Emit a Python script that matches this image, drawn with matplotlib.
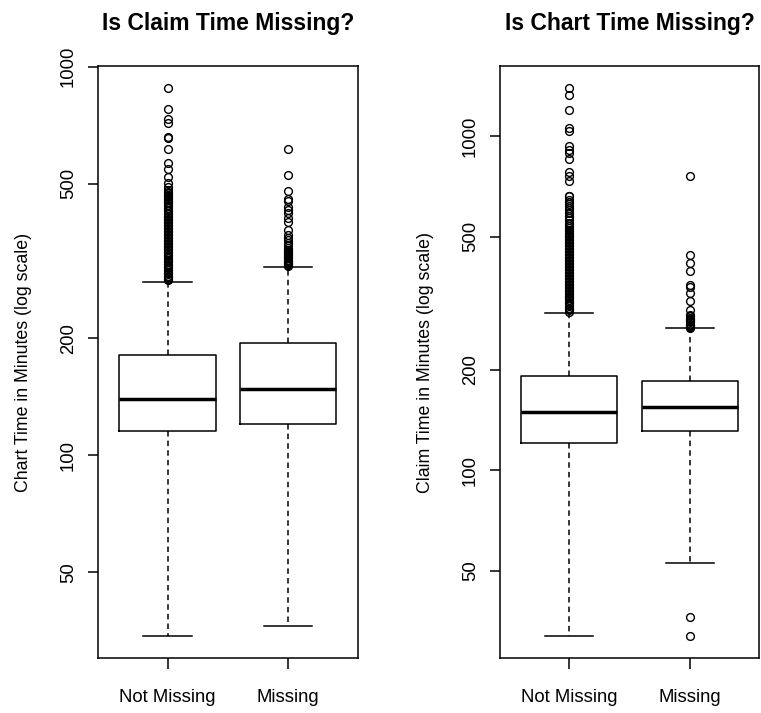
import matplotlib
matplotlib.use("Agg")
import matplotlib.pyplot as plt
from matplotlib.ticker import FixedLocator, FixedFormatter, NullLocator

plt.rcParams['font.family'] = ['Liberation Sans', 'DejaVu Sans']

categories = ["Not Missing", "Missing"]

# Panel 1: Is Claim Time Missing? (Chart time, minutes)
claim_titles = "Is Claim Time Missing?"
claim_ylabel = "Chart Time in Minutes (log scale)"
claim_q1 = [115.5, 120.2]
claim_med = [139.4, 147.7]
claim_q3 = [181.3, 195.0]
claim_whislo = [34.2, 36.3]
claim_whishi = [279.7, 305.8]
claim_fliers_notmissing = [282, 284.5, 287, 289.5, 292, 294.5, 297, 300, 302.5, 305, 308,
                           311, 313.5, 316.5, 319, 322, 325, 328, 331, 334, 337, 340,
                           343, 346, 349, 352, 355, 358.5, 362, 365, 368.5, 372, 375,
                           378.5, 382, 385.5, 389, 392.5, 396, 399.5, 403, 406.5, 410,
                           414, 418, 421.5, 425, 429, 433, 437, 441, 445, 449, 453, 457,
                           461, 465, 469, 473, 477, 483, 491, 503, 521, 545, 564, 615,
                           655, 660, 716, 735, 779, 880]
claim_fliers_missing = [307, 309, 311, 313, 315, 317, 319, 321, 323, 325, 327, 329, 331,
                        333, 336, 338, 341, 347, 352, 358, 363, 369, 380, 399, 407, 420,
                        428, 436, 450, 456, 480, 525, 615]
claim_ylim = (30.0, 1003)

# Panel 2: Is Chart Time Missing? (Claim time, minutes)
chart_titles = "Is Chart Time Missing?"
chart_ylabel = "Claim Time in Minutes (log scale)"
chart_q1 = [120.3, 131.0]
chart_med = [149.3, 154.2]
chart_q3 = [191.0, 185.0]
chart_whislo = [31.8, 52.6]
chart_whishi = [296.5, 266.0]
chart_fliers_notmissing = [298, 301, 304, 307, 310.5, 313.5, 317, 320, 323.5, 327, 330,
                           333.5, 337, 340.5, 344, 347.5, 351, 355, 358.5, 362, 366, 370,
                           373.5, 377.5, 381.5, 385.5, 389.5, 393.5, 397.5, 401.5, 405.5,
                           410, 414, 418.5, 422.5, 427, 431.5, 436, 440.5, 445, 449.5,
                           454, 459, 463.5, 468.5, 473, 478, 483, 488, 493, 498, 503,
                           508, 515, 520, 525, 532, 538, 545, 552, 560, 569, 578, 589,
                           600, 610, 620, 628, 637, 646, 661, 665, 733, 759, 780, 855,
                           891, 912, 933, 1035, 1060, 1202, 1327, 1394]
chart_fliers_missing = [31.8, 36.3, 267, 269, 271, 273, 275, 277, 279, 281, 283, 286,
                        289, 292, 302, 321, 339, 353, 359, 396, 417, 441, 760]
chart_ylim = (27.3, 1622)

yticks = [50, 100, 200, 500, 1000]
ytick_labels = ["50", "100", "200", "500", "1000"]

W, H = 761, 713
fig = plt.figure(figsize=(W / 100, H / 100), dpi=100)

def make_stats(q1, med, q3, lo, hi, fl_list):
    stats = []
    for i in range(len(categories)):
        stats.append(dict(q1=q1[i], med=med[i], q3=q3[i], whislo=lo[i],
                          whishi=hi[i], fliers=fl_list[i], label=categories[i]))
    return stats

def draw(ax, stats, title, ylabel, ylim):
    ax.set_yscale('log')
    ax.bxp(stats, positions=[1, 2], widths=0.8, showfliers=True,
           boxprops=dict(color='black', linewidth=1.1),
           medianprops=dict(color='black', linewidth=2.5, solid_capstyle='butt'),
           whiskerprops=dict(color='black', linewidth=1.1, linestyle=(0, (3.6, 2.7))),
           capprops=dict(color='black', linewidth=1.1),
           flierprops=dict(marker='o', markerfacecolor='none', markeredgecolor='black',
                           markersize=5.6, markeredgewidth=1.0, linestyle='none'))
    ax.set_xlim(0.42, 2.58)
    ax.set_ylim(*ylim)
    ax.yaxis.set_major_locator(FixedLocator(yticks))
    ax.yaxis.set_major_formatter(FixedFormatter(ytick_labels))
    ax.yaxis.set_minor_locator(NullLocator())
    ax.set_xticks([1, 2])
    ax.set_xticklabels(categories)
    ax.tick_params(axis='y', which='major', direction='out', length=7, width=1.1,
                   labelsize=13.3, pad=8, labelrotation=90)
    for lab in ax.get_yticklabels():
        lab.set_va('center')
    ax.tick_params(axis='x', which='major', direction='out', length=8, width=1.1,
                   labelsize=13.3, pad=14)
    for sp in ax.spines.values():
        sp.set_linewidth(1.1)
    ax.set_ylabel(ylabel, fontsize=12.8, labelpad=20)
    ax.set_title(title, fontsize=16.5, fontweight='bold', pad=26)

ax1 = fig.add_axes([97.7 / W, 1 - 658.3 / H, 260.0 / W, 592.0 / H])
draw(ax1, make_stats(claim_q1, claim_med, claim_q3, claim_whislo, claim_whishi,
                     [claim_fliers_notmissing, claim_fliers_missing]),
     claim_titles, claim_ylabel, claim_ylim)

ax2 = fig.add_axes([499.7 / W, 1 - 658.3 / H, 259.6 / W, 592.0 / H])
draw(ax2, make_stats(chart_q1, chart_med, chart_q3, chart_whislo, chart_whishi,
                     [chart_fliers_notmissing, chart_fliers_missing]),
     chart_titles, chart_ylabel, chart_ylim)

fig.savefig("out.png", dpi=100)
